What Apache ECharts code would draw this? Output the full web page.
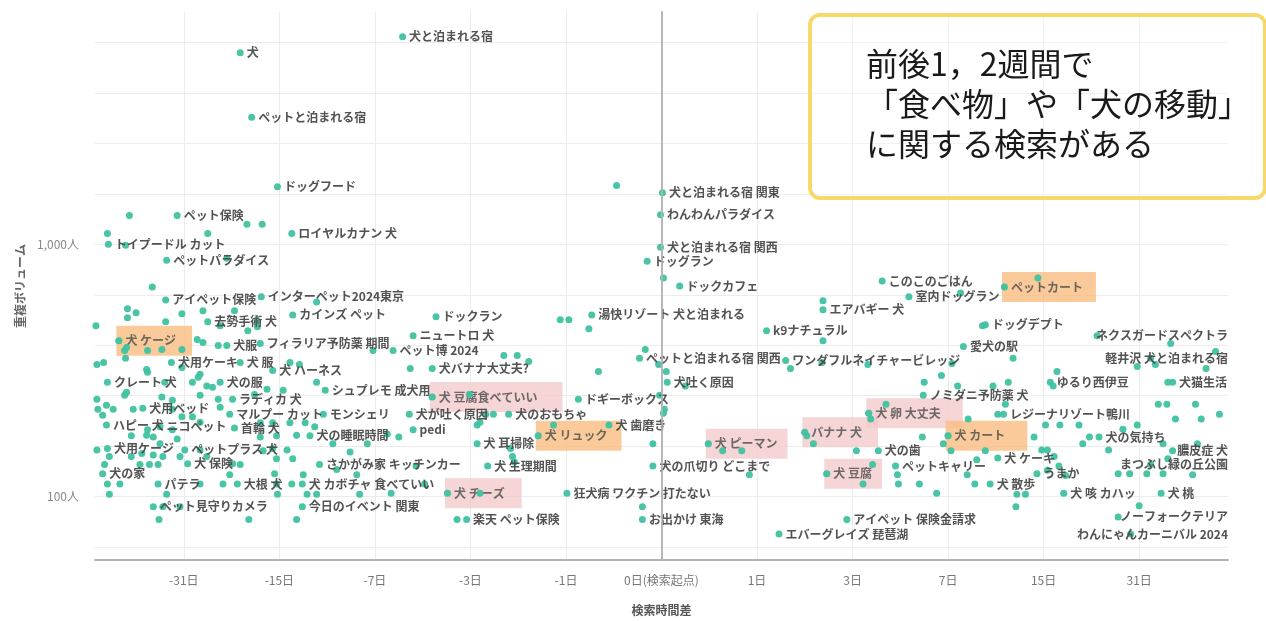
<!DOCTYPE html>
<html><head><meta charset="utf-8">
<script src="https://cdn.jsdelivr.net/npm/echarts@6/dist/echarts.min.js"></script>
<style>html,body{margin:0;padding:0;background:#fff}#c{width:1266px;height:621px}</style>
</head><body><div id="c"></div>
<script>
// Search terms (labels; '' = unlabeled point)
const terms = [
 '犬','犬と泊まれる宿','ペットと泊まれる宿','ドッグフード','','犬と泊まれる宿 関東','わんわんパラダイス','犬と泊まれる宿 関西','ドッグラン','',
 'ドックカフェ','','ペット保険','','','ロイヤルカナン 犬','','','トイプードル カット','',
 'ペットパラダイス','','','アイペット保険','インターペット2024東京','','','','','',
 '','','','去勢手術 犬','','','','カインズ ペット','','',
 '犬 ケージ','','','','','','','','','犬服',
 'フィラリア予防薬 期間','','','ペット博 2024','ドックラン','','','湯快リゾート 犬と泊まれる','','ニュートロ 犬',
 'k9ナチュラル','','','','','ペットと泊まれる宿 関西','犬バナナ大丈夫?','','','',
 '','','犬吐く原因','','犬 豆腐食べていい','','ドギーボックス','犬が吐く原因','',
 '','犬のおもちゃ','','','犬 歯磨き','犬 リュック','','','','',
 'pedi','','犬 耳掃除','','','','犬 ピーマン','','','犬の爪切り どこまで',
 '','犬 生理期間','','','','犬 チーズ','','狂犬病 ワクチン 打たない','','お出かけ 東海',
 '','楽天 ペット保険','エバーグレイズ 琵琶湖','このこのごはん','ペットカート','','室内ドッグラン','','','エアバギー 犬',
 '','ドッグデプト','','愛犬の駅','','ネクスガードスペクトラ','軽井沢 犬と泊まれる宿','','','',
 '','ワンダフルネイチャービレッジ','','','','','','','','',
 '','ゆるり西伊豆','','','犬猫生活','','','ノミダニ予防薬 犬','犬 卵 大丈夫','',
 '','バナナ 犬','','','レジーナリゾート鴨川','','','','','',
 '','犬 カート','','','','','犬の気持ち','','','',
 '犬の歯','','','犬 ケーキ','','','','膿皮症 犬','','',
 '','','','','','','','','','まつぶし緑の丘公園',
 '','','','','','犬 豆腐','','','ペットキャリー','',
 '','','','','','犬 散歩','うまか','','','',
 '犬 咳 カハッ','犬 桃','','','','','','アイペット 保険金請求','ノーフォークテリア','わんにゃんカーニバル 2024',
 '犬用ケーキ','','','','','犬 服','犬 ハーネス','','','',
 '','クレート 犬','','','','','','犬の服','','シュプレモ 成犬用',
 '','','','','','ラディカ 犬','','','','',
 '','','','','','犬用ベッド','','','','',
 '','マルプー カット','モンシェリ','','ハピー 犬','','','','','',
 'ニコペット','','','','首輪 犬','犬の睡眠時間','','','','',
 '','','','','','','','犬用ケージ','','',
 '','','','','','ペットプラス 犬','','','','',
 '','','犬 保険','','','','','犬の家','','',
 '','','','','さかがみ家 キッチンカー','','','','','パテラ',
 '','','大根 犬','','','犬 カボチャ 食べていい','','','','',
 '','','ペット見守りカメラ','','','今日のイベント 関東','','',''
];
// Search time difference on a symmetric log2 scale: sign(d)*log2(|d|+1) (d in days)
const timePos = [
 -4.41,-2.71,-4.29,-4.02,-0.47,0.01,-0.01,-0.01,-0.15,0.02,
 0.19,-5.57,-5.07,-4.34,-4.18,-3.87,-5.80,-4.75,-5.79,-5.61,
 -5.18,-4.55,-5.33,-5.19,-4.19,-3.61,-5.59,-5.50,-5.59,-5.02,
 -4.80,-4.47,-5.19,-4.75,-4.62,-4.23,-4.23,-3.86,-5.92,-4.33,
 -5.68,-5.60,-5.62,-5.38,-5.23,-5.02,-4.86,-4.80,-4.64,-4.55,
 -4.20,-5.61,-3.02,-2.81,-2.36,-1.06,-0.97,-0.73,-0.76,-2.60,
 1.10,-1.65,-1.51,-1.39,-0.17,-0.23,-2.40,-2.63,-0.66,-0.03,
 0.05,-0.02,0.06,0.25,-2.40,-2.01,-0.87,-2.64,-1.84,
 -1.76,-1.60,-1.90,-1.93,-0.55,-1.29,-1.13,0.03,0.02,-0.09,
 -2.60,-2.75,-1.93,-1.58,-1.56,-1.54,0.49,0.64,0.84,-0.09,
 0.92,-1.82,-2.57,-2.48,-2.83,-2.24,-1.90,-0.99,-0.20,-0.20,
 -2.14,-2.04,1.23,2.31,3.59,3.94,2.59,3.13,1.69,1.69,
 3.36,3.39,1.69,3.16,3.68,4.56,5.12,4.98,5.17,5.80,
 5.33,1.30,1.35,1.68,2.16,3.04,2.75,2.93,3.10,3.47,
 3.63,4.07,4.10,4.14,5.35,5.30,5.70,2.74,2.17,2.19,
 2.35,1.50,1.52,1.59,3.58,3.52,3.60,3.21,4.02,4.17,
 4.37,3.00,2.95,3.03,2.73,3.90,4.58,4.48,4.41,4.68,
 2.27,2.04,3.39,3.52,3.98,4.04,4.11,5.35,5.30,5.20,
 5.29,5.59,5.38,5.65,5.84,5.25,5.61,4.98,4.83,5.12,
 4.78,4.90,5.08,5.25,5.56,1.73,2.11,2.21,2.45,2.47,
 2.48,2.70,3.20,3.28,3.30,3.44,3.93,4.04,4.16,4.23,
 4.21,5.23,5.00,2.88,3.72,3.81,3.71,1.94,4.78,4.91,
 -5.13,-5.91,-5.84,-5.39,-5.38,-4.41,-4.07,-3.89,-3.79,-4.83,
 -5.02,-5.80,-5.20,-4.91,-4.85,-4.76,-4.70,-4.62,-3.61,-3.52,
 -5.62,-5.23,-5.12,-4.83,-4.64,-4.49,-4.26,-4.13,-3.96,-5.91,
 -5.90,-5.81,-5.74,-5.53,-5.60,-5.43,-5.12,-5.02,-4.91,-4.83,
 -4.62,-4.52,-3.54,-5.85,-5.81,-4.20,-4.07,-3.89,-3.73,-3.63,
 -5.25,-5.38,-5.32,-5.25,-4.47,-3.68,-3.44,-3.26,-3.08,-2.87,
 -5.55,-5.39,-5.12,-5.07,-4.20,-4.03,-3.82,-5.80,-5.91,-5.78,
 -5.55,-5.44,-5.32,-5.22,-5.04,-4.99,-4.83,-4.17,-4.07,-3.92,
 -3.86,-4.03,-4.96,-4.76,-4.49,-4.41,-4.52,-5.85,-5.83,-5.80,
 -5.67,-5.46,-5.36,-5.27,-3.58,-4.05,-3.75,-3.19,-3.40,-5.27,
 -4.83,-4.59,-4.44,-4.03,-3.87,-3.76,-5.78,-5.18,-4.02,-3.71,
 -3.61,-3.16,-5.32,-5.22,-5.04,-3.76,-5.26,-4.32,-3.82
];
// Overlapping search volume (people)
const volume = [
 5750,6650,3190,1690,1710,1600,1310,973,857,735,
 683,1300,1300,1200,1200,1105,1105,1105,1000,991,
 865,881,677,602,619,591,555,535,511,530,
 545,545,493,493,476,498,471,525,476,454,
 415,390,379,379,383,383,419,408,397,397,
 404,353,379,379,516,502,502,525,463,434,
 454,362,362,343,383,353,322,322,313,334,
 313,252,284,274,248,254,243,212,212,
 212,212,197,192,192,174,192,222,214,162,
 184,172,162,155,144,137,162,152,152,132,
 122,132,132,112,103,103,103,103,91,81,
 81,81,71,715,677,735,619,641,597,550,
 476,480,415,393,353,434,353,328,334,376,
 404,346,322,340,334,337,284,302,274,274,
 284,284,274,313,284,284,322,252,214,203,
 232,180,174,162,212,212,232,203,192,192,
 192,174,162,152,172,172,172,172,162,153,
 152,152,152,142,153,153,144,152,141,232,
 232,232,203,203,212,162,162,192,185,134,
 123,123,123,123,122,123,112,134,132,122,
 112,112,122,112,140,112,123,127,132,121,
 103,103,92,103,102,102,91,81,83,71,
 340,334,340,319,311,340,316,340,334,305,
 325,284,284,284,297,274,271,284,284,264,
 252,248,241,252,243,243,254,266,264,243,
 222,230,222,222,259,224,222,207,207,197,
 226,212,212,210,192,196,196,196,196,189,
 189,184,172,162,187,174,162,150,162,177,
 174,175,184,169,172,174,175,155,153,144,
 144,148,146,144,144,153,153,152,155,153,
 141,141,135,144,135,134,122,123,134,112,
 112,134,134,134,134,123,122,122,128,112,
 112,112,112,112,112,112,102,102,102,102,
 102,102,91,91,91,91,81,81,81
];
const orangeTerms = ['犬 ケージ','ペットカート','犬 リュック','犬 カート'];
const pinkTerms = ['犬 豆腐食べていい','犬 チーズ','犬 ピーマン','バナナ 犬','犬 卵 大丈夫','犬 豆腐'];
const xTickPos = [-5,-4,-3,-2,-1,0,1,2,3,4,5];
const xTickLabels = ['-31日','-15日','-7日','-3日','-1日','0日(検索起点)','1日','3日','7日','15日','31日'];
const yLabelVolumes = [100, 1000];
const yLabelTexts = ['100人','1,000人'];
const timeRange = [-5.93, 5.93];
const volumeRange = [56, 8343];
const noteText = '前後1，2週間で\n「食べ物」や「犬の移動」\nに関する検索がある';

const FONT = '"Noto Sans CJK JP","Noto Sans",sans-serif';
const DOT = '#3fc2a0';
const W = 1266, GRID = {left: 95, right: 38, top: 12, bottom: 56};
const RIGHT_EDGE = W - GRID.right;
// extra right padding of the highlight boxes (hand-drawn widths in the original)
const boxPadRight = {'犬 ケージ': 16, 'ペットカート': 13, '犬 リュック': 14, '犬 カート': 22,
  '犬 豆腐食べていい': 25, '犬 チーズ': 17, '犬 ピーマン': 10, 'バナナ 犬': 16, '犬 卵 大丈夫': 22, '犬 豆腐': 10};

if (terms.length !== timePos.length || terms.length !== volume.length) {
  console.error('length mismatch', terms.length, timePos.length, volume.length);
}

// grid lines every 0.2 decade on the log volume axis
const yGridLog = [];
for (let k = Math.ceil(Math.log10(volumeRange[0]) * 5); k <= Math.floor(Math.log10(volumeRange[1]) * 5); k++) yGridLog.push(k / 5);

const isHi = n => orangeTerms.includes(n) || pinkTerms.includes(n);
const mainData = terms.map((n, i) => ({
  name: n, value: [timePos[i], Math.log10(volume[i])],
  label: {show: n !== '' && !isHi(n)}
}));
const hiData = [];
terms.forEach((n, i) => {
  if (isHi(n)) hiData.push({
    name: n, value: [timePos[i], Math.log10(volume[i])],
    label: {backgroundColor: orangeTerms.includes(n) ? '#f9bd82' : '#f3cbcb',
      padding: [9, boxPadRight[n] || 16, 9, 9]}
  });
});

const chart = echarts.init(document.getElementById('c'), null, {renderer: 'canvas'});
chart.setOption({
  animation: false,
  backgroundColor: '#fff',
  textStyle: {fontFamily: FONT},
  grid: GRID,
  xAxis: {
    type: 'value', min: timeRange[0], max: timeRange[1],
    name: '検索時間差', nameLocation: 'middle', nameGap: 44,
    nameTextStyle: {fontSize: 12, color: '#555', fontWeight: 'bold', fontFamily: FONT},
    axisLine: {show: true, onZero: false, lineStyle: {color: '#b3b3b3', width: 2}},
    axisTick: {show: false, customValues: xTickPos},
    axisLabel: {customValues: xTickPos, margin: 14, color: '#777', fontSize: 12, fontFamily: FONT,
      formatter: v => xTickLabels[xTickPos.indexOf(Math.round(v))] || ''},
    splitLine: {show: true, lineStyle: {color: '#ececec', width: 1}}
  },
  yAxis: {
    type: 'value', min: Math.log10(volumeRange[0]), max: Math.log10(volumeRange[1]),
    name: '重複ボリューム', nameLocation: 'middle', nameGap: 68,
    nameTextStyle: {fontSize: 12, color: '#666', fontWeight: 'bold', fontFamily: FONT},
    axisLine: {show: true, lineStyle: {color: '#b3b3b3', width: 2}},
    axisTick: {show: false, customValues: yGridLog},
    axisLabel: {customValues: yLabelVolumes.map(v => Math.log10(v)), margin: 16, color: '#888', fontSize: 12, fontFamily: FONT,
      formatter: v => {
        const i = yLabelVolumes.findIndex(t => Math.abs(Math.log10(t) - v) < 1e-6);
        return i >= 0 ? yLabelTexts[i] : '';
      }},
    splitLine: {show: true, lineStyle: {color: '#ececec', width: 1}}
  },
  series: [
    {
      type: 'scatter', z: 1, data: hiData, symbolSize: 7,
      itemStyle: {color: DOT},
      label: {show: true, position: 'right', distance: -6, padding: [9, 16, 9, 9],
        formatter: '{b}', fontSize: 12, fontWeight: 'bold', color: '#4a4a4a', fontFamily: FONT}
    },
    {
      type: 'scatter', z: 2, data: mainData, symbolSize: 7,
      itemStyle: {color: DOT, opacity: 0.95},
      label: {position: 'right', distance: 3, formatter: '{b}', fontSize: 12, fontWeight: 'bold',
        color: '#4a4a4a', fontFamily: FONT},
      labelLayout: function (p) {
        if (!p.text) return {};
        const r = p.labelRect;
        const over = r.x + r.width - RIGHT_EDGE;
        return over > 0 ? {dx: -over} : {};
      },
      markLine: {
        silent: true, symbol: 'none', label: {show: false},
        lineStyle: {color: '#b8b8b8', width: 1.5, type: 'solid'},
        data: [{xAxis: 0}]
      }
    }
  ],
  graphic: [
    {type: 'rect', left: 808, top: 13, z: 100,
      shape: {width: 455, height: 183, r: 10},
      style: {fill: 'rgba(255,255,255,0.3)', stroke: '#f7d86a', lineWidth: 4}},
    {type: 'text', left: 866, top: 44, z: 101,
      style: {text: noteText, font: '32px "Noto Sans CJK JP"', fill: '#1a1a1a', lineHeight: 40}}
  ]
});
</script>
</body></html>
